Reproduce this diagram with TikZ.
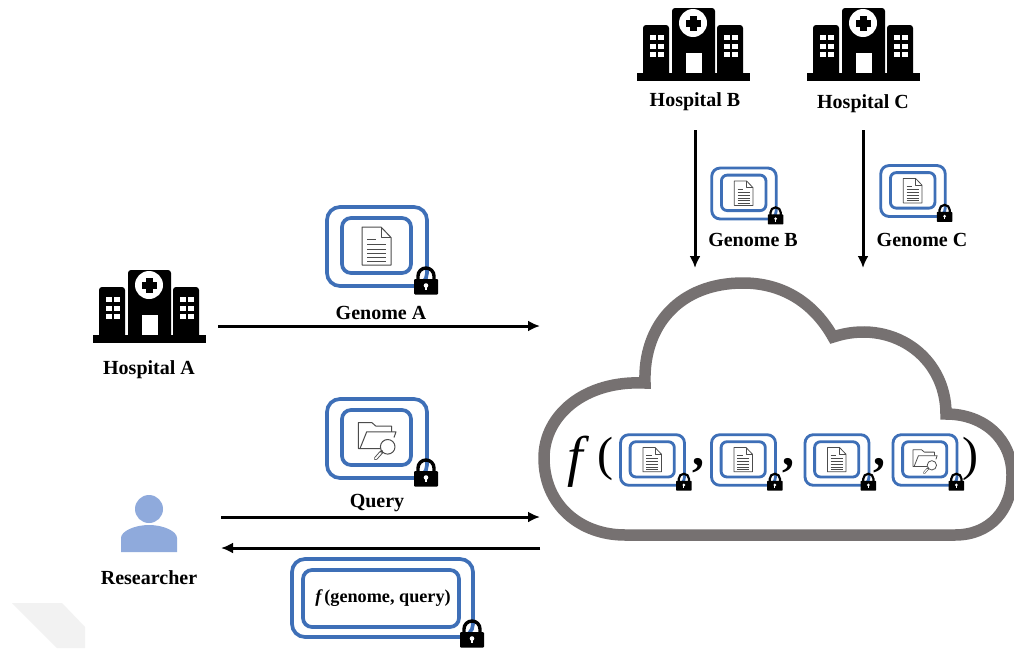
\documentclass[tikz,border=0pt]{standalone}
\usepackage{fontspec}
\setmainfont{Liberation Serif}
\usetikzlibrary{arrows.meta}
\definecolor{boxblue}{HTML}{3E6FB7}
\definecolor{cloudgray}{HTML}{767171}
\definecolor{personblue}{HTML}{8FAADC}
\definecolor{markgray}{HTML}{F2F2F2}
\newcommand{\boxscale}{1}
\tikzset{
  x=1pt,y=-1pt,
  every pic/.style={transform shape},
  boxscale/.code={\renewcommand{\boxscale}{#1}},
  sbox/.style={scale=#1,boxscale=#1},
  lab/.style={font=\fontsize{20}{24}\selectfont\bfseries,inner sep=0pt,text=black},
  bigsym/.style={font=\fontsize{48}{56}\selectfont,inner sep=0pt,text=black},
  flow/.style={line width=3pt,-{Latex[length=12pt,width=11pt]},black},
  blueline/.style={draw=boxblue,line width=\boxscale*2.4pt+1.3pt},
  iconline/.style={draw=black!70,line width=\boxscale*0.6pt+0.4pt,line join=round},
  lockicon/.pic={
    \draw[black,line width=\boxscale*3.4pt]
      (-8,1) -- (-8,-3) .. controls (-8,-7.4) and (-4.4,-11) .. (0,-11)
      .. controls (4.4,-11) and (8,-7.4) .. (8,-3) -- (8,1);
    \fill[black,rounded corners=\boxscale*1pt] (-12,0) rectangle (12,15.5);
    \fill[white] (0,6.5) circle[radius=2.3];
    \fill[white] (-0.9,7) rectangle (0.9,11);
  },
  frames/.pic={
    \draw[blueline,rounded corners=\boxscale*13pt] (-50,-39.5) rectangle (50,39.5);
    \draw[blueline,rounded corners=\boxscale*9pt] (-35,-28.5) rectangle (34,26.5);
  },
  docicon/.pic={
    \draw[iconline,fill=white] (-15,-19.5) -- (4,-19.5) -- (14,-9) -- (14,18.5) -- (-15,18.5) -- cycle;
    \draw[iconline] (4,-19.5) -- (4,-9) -- (14,-9);
    \foreach \ly in {-2,2.5,7,11,15}{\draw[iconline] (-10,\ly) -- (9,\ly);}
    \draw[iconline] (-10,-7) -- (-1,-7);
  },
  foldericon/.pic={
    \draw[iconline] (-17,10) -- (-18.7,10) -- (-18.7,-16) -- (-5.3,-16) -- (-1,-12.3) -- (14.7,-12.3) -- (14.7,-6.7);
    \draw[iconline] (3,10) -- (-17,10) -- (-10.3,-6.7) -- (19,-6.7) -- (17,-1);
    \draw[iconline,fill=white] (10.7,8.3) circle[radius=7.3];
    \draw[black!70,line width=\boxscale*3.6pt,line cap=round] (4.7,13.3) -- (-1.3,20);
    \draw[white,line width=\boxscale*1.8pt,line cap=round] (3.7,14.4) -- (-1.3,20);
  },
  genomebox/.pic={
    \pic {frames};
    \pic {docicon};
    \pic at (49,32.5) {lockicon};
  },
  querybox/.pic={
    \pic {frames};
    \pic {foldericon};
    \pic at (49,32.5) {lockicon};
  },
  hospital/.pic={
    \fill[black,rounded corners=3pt] (-50,68) -- (-50,17) -- (-24,17) -- (-24,68) -- cycle;
    \fill[black,rounded corners=3pt] (24,68) -- (24,17) -- (50,17) -- (50,68) -- cycle;
    \fill[black] (-56,65) rectangle (57,73);
    \fill[black,rounded corners=3pt] (-21,70) -- (-21,0) -- (22,0) -- (22,70) -- cycle;
    \fill[white] (0,15) circle[radius=14];
    \fill[black] (-3.5,7.5) rectangle (3.5,22.5);
    \fill[black] (-7.5,11.5) rectangle (7.5,18.5);
    \fill[white] (-7,45) rectangle (9,65);
    \foreach \wx in {-43,-35,31,39}{
      \foreach \wy in {27,35.5,44}{
        \fill[white] (\wx,\wy) rectangle ++(5.5,5);
      }
    }
  },
}
\begin{document}
\begin{tikzpicture}
\clip (0,0) rectangle (1014,648);
\fill[white] (0,0) rectangle (1014,648);
% faint mark
\fill[markgray] (12,603) -- (62,603) -- (85,627) -- (85,648) -- (57,648) -- cycle;

% hospitals
\pic (hospa) at (149,270) {hospital};
\pic (hospb) at (693,8) {hospital};
\pic (hospc) at (863,8) {hospital};
\node[lab] (hA) at (149,369.5) {Hospital A};
\node[lab] (hB) at (695,102) {Hospital B};
\node[lab] (hC) at (863,103.5) {Hospital C};

% researcher
\fill[personblue] (149,509) circle[radius=14];
\fill[personblue] (121,552) -- (121,538) .. controls (121,531) and (135,525) .. (149,525)
  .. controls (163,525) and (177,531) .. (177,538) -- (177,552) -- cycle;
\node[lab] (res) at (149,577.5) {Researcher};

% cloud
\draw[cloudgray,line width=11.5pt,line join=miter,miter limit=10,fill=white]
  (645,383) .. controls (643,325) and (680,283) .. (743,283)
  .. controls (785,283) and (815,305) .. (833,337)
  .. controls (890,318) and (946,355) .. (946,414)
  .. controls (985,414) and (1012,440) .. (1012,475)
  .. controls (1012,510) and (990,535) .. (955,535)
  -- (625,535)
  .. controls (580,535) and (544,505) .. (544,458)
  .. controls (544,415) and (585,380) .. (645,383) -- cycle;

% secure boxes
\pic (ga) at (377,246.5) {genomebox};
\pic (q) at (377,438.5) {querybox};
\pic[sbox=.645] (gb) at (744,193.5) {genomebox};
\pic[sbox=.645] (gc) at (913,191) {genomebox};

% formula in the cloud
\node[bigsym,font=\fontsize{56}{60}\selectfont] (ff) at (578,462) {\textit{f}};
\node[bigsym] (lp) at (605,459) {(};
\node[bigsym,font=\fontsize{48}{56}\selectfont\bfseries] (k1) at (698,466) {,};
\node[bigsym,font=\fontsize{48}{56}\selectfont\bfseries] (k2) at (788,466) {,};
\node[bigsym,font=\fontsize{48}{56}\selectfont\bfseries] (k3) at (879,466) {,};
\node[bigsym] (rp) at (970,459) {)};

\pic[sbox=.64] (c1) at (652.5,460) {genomebox};
\pic[sbox=.64] (c2) at (743.5,460) {genomebox};
\pic[sbox=.64] (c3) at (837,460) {genomebox};
\pic[sbox=.64] (c4) at (925,460) {querybox};

\node[lab] (lga) at (381,313) {Genome A};
\node[lab] (lq) at (377,503) {Query};
\node[lab] (lgb) at (753,239.5) {Genome B};
\node[lab] (lgc) at (922,239.5) {Genome C};

% result box
\node[draw=boxblue,line width=3.7pt,rounded corners=13pt,minimum width=181pt,minimum height=78pt,inner sep=0pt] (rout) at (382.5,598) {};
\node[draw=boxblue,line width=3.7pt,rounded corners=9pt,minimum width=156pt,minimum height=57pt,inner sep=0pt,
      font=\fontsize{18.2}{21}\selectfont\bfseries] (rin) at (381,598.5) {\hspace*{4pt}\textit{f\,}(genome, query)};
\pic (rl) at (472,632) {lockicon};

% connectors
\coordinate (a1) at (218,326);
\coordinate (a2) at (540,326);
\coordinate (q1) at (221,517);
\coordinate (q2) at (540,517);
\coordinate (r1) at (540,548);
\coordinate (r2) at (221,548);
\coordinate (b1) at (695,130);
\coordinate (b2) at (695,268);
\coordinate (c1p) at (863,130);
\coordinate (c2p) at (863,268);
\draw[flow] (a1) -- (a2);
\draw[flow] (q1) -- (q2);
\draw[flow] (r1) -- (r2);
\draw[flow] (b1) -- (b2);
\draw[flow] (c1p) -- (c2p);
\end{tikzpicture}
\end{document}
